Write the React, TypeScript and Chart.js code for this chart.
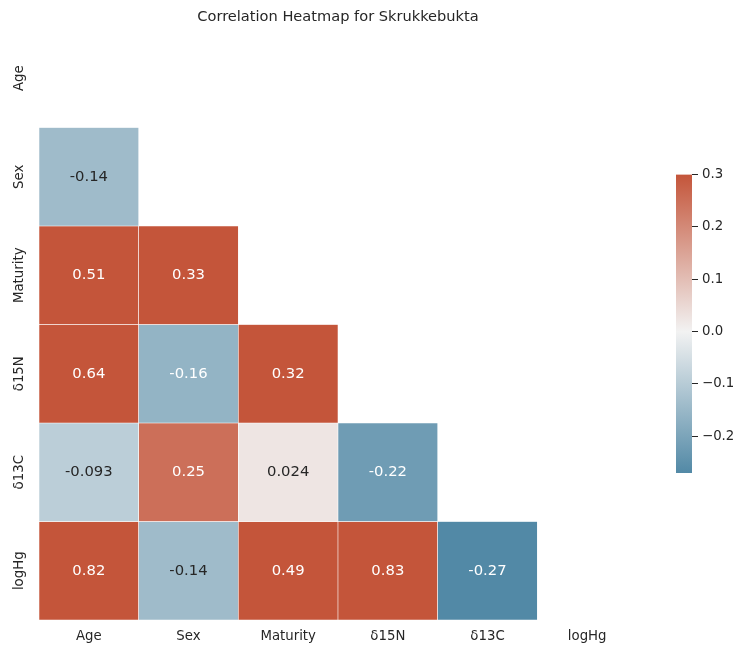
import React, { useEffect, useRef } from "react";
import { Chart, registerables } from "chart.js";

Chart.register(...registerables);

// ---- data ----
const labels = ["Age", "Sex", "Maturity", "δ15N", "δ13C", "logHg"];
const rowAge: number[] = [];
const rowSex = [-0.14];
const rowMaturity = [0.51, 0.33];
const rowD15N = [0.64, -0.16, 0.32];
const rowD13C = [-0.093, 0.25, 0.024, -0.22];
const rowLogHg = [0.82, -0.14, 0.49, 0.83, -0.27];
const rows = [rowAge, rowSex, rowMaturity, rowD15N, rowD13C, rowLogHg];
const colorbarTicks = [-0.2, -0.1, 0.0, 0.1, 0.2, 0.3];
const vmin = -0.27;
const vmax = 0.3;

const TITLE = "Correlation Heatmap for Skrukkebukta";
const FONT = "DejaVu Sans";
const TEXT = "#262626";

// diverging colormap (blue - light gray - red), centred on 0
const BLUE = [64, 125, 157];
const MID = [242, 242, 242];
const RED = [196, 85, 58];
const HALF = 0.3;

function cmapRGB(v: number): number[] {
  const c = Math.max(vmin, Math.min(vmax, v));
  const t = c / HALF;
  const end = t < 0 ? BLUE : RED;
  const a = Math.abs(t);
  return MID.map((m, i) => m + (end[i] - m) * a);
}
function cmap(v: number): string {
  const [r, g, b] = cmapRGB(v);
  return `rgb(${Math.round(r)},${Math.round(g)},${Math.round(b)})`;
}
function luminance(v: number): number {
  const rgb = cmapRGB(v).map((x) => {
    const s = x / 255;
    return s <= 0.03928 ? s / 12.92 : Math.pow((s + 0.055) / 1.055, 2.4);
  });
  return 0.2126 * rgb[0] + 0.7152 * rgb[1] + 0.0722 * rgb[2];
}

export default function App() {
  const mainRef = useRef<HTMLCanvasElement>(null);
  const cbRef = useRef<HTMLCanvasElement>(null);

  useEffect(() => {
    document.body.style.margin = "0";
    const datasets = rows
      .map((vals, r) => ({
        label: labels[r],
        data: labels.map((_, c) => (c < vals.length ? [r, r + 1] : null)) as any,
        backgroundColor: labels.map((_, c) => (c < vals.length ? cmap(vals[c]) : "rgba(0,0,0,0)")),
        borderColor: "#ffffff",
        borderWidth: 0.6,
        borderSkipped: false,
        grouped: false,
        categoryPercentage: 1,
        barPercentage: 1,
        values: vals,
      }))
      .filter((d) => d.values.length > 0);

    const annotPlugin = {
      id: "annot",
      afterDatasetsDraw(chart: any) {
        const ctx = chart.ctx;
        ctx.save();
        ctx.font = `14.8px "${FONT}"`;
        ctx.textAlign = "center";
        ctx.textBaseline = "middle";
        chart.data.datasets.forEach((ds: any, di: number) => {
          const meta = chart.getDatasetMeta(di);
          ds.values.forEach((v: number, c: number) => {
            const el = meta.data[c];
            if (!el) return;
            ctx.fillStyle = luminance(v) > 0.44 ? TEXT : "#ffffff";
            ctx.fillText(String(v), el.x, (el.y + el.base) / 2);
          });
        });
        ctx.restore();
      },
      afterDraw(chart: any) {
        const ctx = chart.ctx;
        const ys = chart.scales.y;
        const area = chart.chartArea;
        ctx.save();
        ctx.fillStyle = TEXT;
        ctx.textAlign = "center";
        ctx.textBaseline = "middle";
        ctx.font = `14.6px "${FONT}"`;
        ctx.fillText(TITLE, (area.left + area.right) / 2, 17);
        ctx.font = `13.3px "${FONT}"`;
        labels.forEach((lab, i) => {
          const y = ys.getPixelForValue(i + 0.5);
          ctx.save();
          ctx.translate(20, y);
          ctx.rotate(-Math.PI / 2);
          ctx.fillText(lab, 0, 0);
          ctx.restore();
        });
        ctx.restore();
      },
    };

    const main = new Chart(mainRef.current!, {
      type: "bar",
      data: { labels, datasets: datasets as any },
      options: {
        responsive: false,
        animation: false,
        layout: { padding: { left: 0, right: 99, top: 29, bottom: 0 } },
        plugins: {
          legend: { display: false },
          tooltip: { enabled: false },
          title: { display: false },
        },
        scales: {
          x: {
            type: "category",
            grid: { display: false, drawTicks: false },
            border: { display: false },
            ticks: { color: TEXT, font: { family: FONT, size: 13.3 }, padding: 9, maxRotation: 0 },
            afterFit: (s: any) => {
              s.height = 26;
            },
          },
          y: {
            type: "linear",
            min: 0,
            max: 6,
            reverse: true,
            grid: { display: false, drawTicks: false },
            border: { display: false },
            ticks: { display: false },
            afterFit: (s: any) => {
              s.width = 39;
            },
          },
        },
      } as any,
      plugins: [annotPlugin],
    });

    const cb = new Chart(cbRef.current!, {
      type: "bar",
      data: {
        labels: [""],
        datasets: [
          {
            data: [[vmin, vmax]] as any,
            backgroundColor: (context: any) => {
              const chart = context.chart;
              const ys = chart.scales && chart.scales.y;
              if (!chart.chartArea || !ys) return cmap(0);
              const g = chart.ctx.createLinearGradient(
                0,
                ys.getPixelForValue(vmin),
                0,
                ys.getPixelForValue(vmax)
              );
              [vmin, 0, vmax].forEach((v) => g.addColorStop((v - vmin) / (vmax - vmin), cmap(v)));
              return g;
            },
            borderWidth: 0,
            categoryPercentage: 1,
            barPercentage: 1,
          },
        ],
      },
      options: {
        responsive: false,
        animation: false,
        layout: { padding: { left: 16, right: 0, top: 14.5, bottom: 17 } },
        plugins: { legend: { display: false }, tooltip: { enabled: false }, title: { display: false } },
        scales: {
          x: { display: false },
          y: {
            type: "linear",
            position: "right",
            min: vmin,
            max: vmax,
            grid: { display: true, drawOnChartArea: false, drawTicks: true, tickLength: 6, tickColor: TEXT, tickWidth: 1 },
            border: { display: false },
            afterBuildTicks: (s: any) => {
              s.ticks = colorbarTicks.map((v) => ({ value: v }));
            },
            ticks: {
              color: TEXT,
              font: { family: FONT, size: 13.3 },
              padding: 4,
              callback: (v: any) => {
                const n = Number(v);
                const s = Math.abs(n).toFixed(1);
                return n < -1e-9 ? "\u2212" + s : s;
              },
            },
            afterFit: (s: any) => {
              s.width = 44;
            },
          },
        },
      } as any,
    });

    return () => {
      main.destroy();
      cb.destroy();
    };
  }, []);

  return (
    <div style={{ position: "relative", width: 736, height: 646 }}>
      <canvas ref={mainRef} width={736} height={646} style={{ position: "absolute", left: 0, top: 0 }} />
      <canvas ref={cbRef} width={76} height={330} style={{ position: "absolute", left: 660, top: 160 }} />
    </div>
  );
}
